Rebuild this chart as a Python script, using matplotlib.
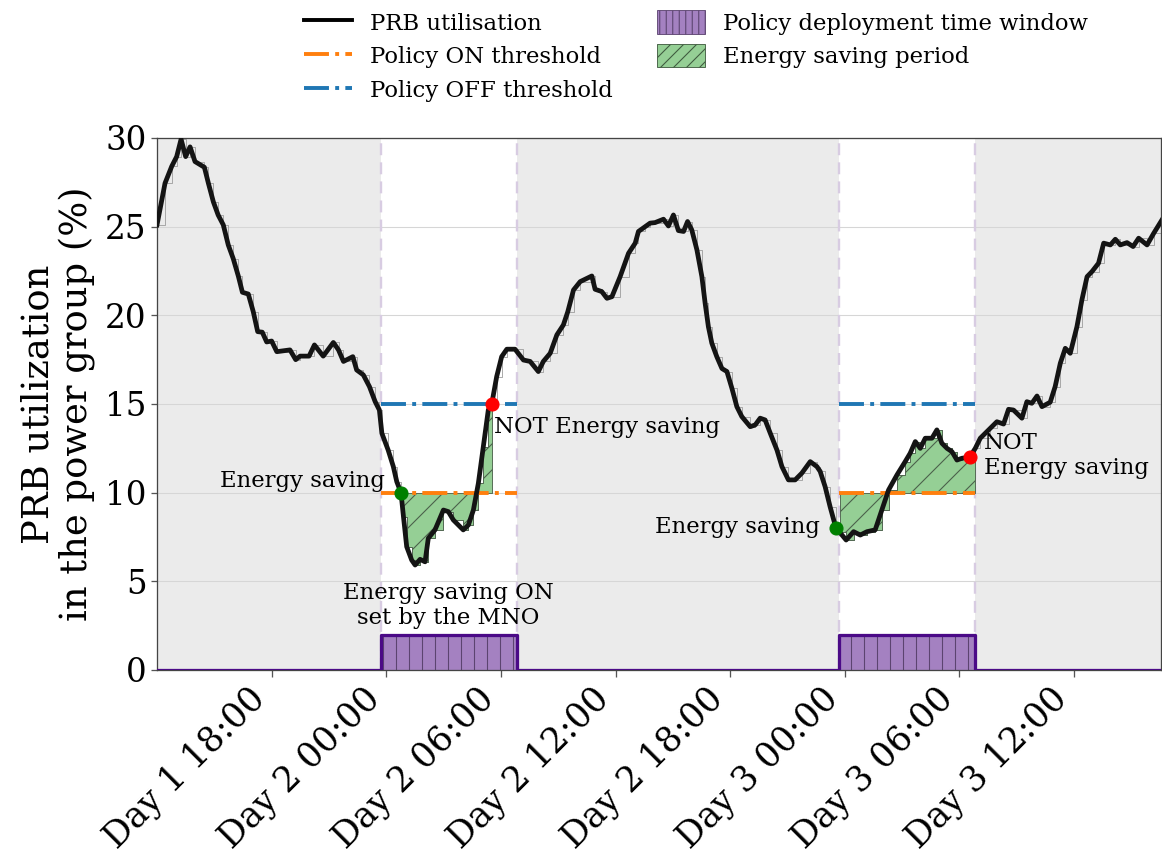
import numpy as np
import matplotlib
matplotlib.use("Agg")
import matplotlib.pyplot as plt
from matplotlib.lines import Line2D
from matplotlib.patches import Patch

# ---------------- data (time in hours since Day 1 00:00) ----------------
hours = [12.0, 12.42, 12.77, 13.03, 13.26, 13.5, 13.73, 13.99, 14.48, 14.69,
         14.95, 15.2, 15.47, 15.73, 15.99, 16.26, 16.47, 16.78, 17.04, 17.27,
         17.51, 17.74, 18.0, 18.27, 18.96, 19.26, 19.49, 19.96, 20.24, 20.7,
         21.23, 21.5, 21.76, 22.25, 22.45, 22.8, 23.12, 23.42, 23.64, 23.77,
         24.1, 24.37, 24.55, 24.77, 24.9, 25.07, 25.33, 25.51, 25.77, 26.03,
         26.2, 26.55, 26.99, 27.25, 27.51, 28.03, 28.3, 28.56, 28.82, 29.08,
         29.34, 29.52, 29.78, 30.04, 30.31, 30.74, 31.18, 31.53, 31.96, 32.22,
         32.58, 32.93, 33.27, 33.5, 33.8, 34.15, 34.76, 34.93, 35.28, 35.55,
         35.81, 36.24, 36.68, 37.03, 37.2, 37.55, 37.81, 38.07, 38.51, 38.77,
         39.03, 39.29, 39.56, 39.77, 39.99, 40.26, 40.52, 40.69, 40.86, 41.04,
         41.3, 41.57, 41.83, 42.09, 42.35, 42.61, 43.05, 43.31, 43.57, 43.83,
         44.1, 44.45, 44.71, 45.05, 45.4, 45.75, 46.19, 46.54, 46.71, 46.97,
         47.23, 47.53, 48.07, 48.46, 48.81, 49.16, 49.59, 49.94, 50.29, 50.73,
         51.16, 51.42, 51.69, 51.95, 52.21, 52.56, 52.82, 53.08, 53.35, 53.61,
         53.87, 54.13, 54.53, 54.83, 55.09, 55.61, 55.96, 56.31, 56.57, 56.83,
         57.27, 57.53, 57.79, 58.06, 58.32, 58.75, 59.01, 59.28, 59.54, 59.8,
         60.15, 60.41, 60.68, 60.94, 61.28, 61.55, 61.9, 62.16, 62.42, 62.77,
         63.09, 63.38, 63.82, 64.17, 64.6]
prb = [25.1, 27.45, 28.4, 28.95, 29.93, 28.95, 29.5, 28.67, 28.35, 27.45,
       26.4, 25.66, 25.1, 23.97, 23.2, 22.2, 21.3, 21.2, 20.2, 19.08,
       19.05, 18.5, 18.55, 17.95, 18.05, 17.5, 17.7, 17.7, 18.33, 17.7,
       18.47, 18.05, 17.4, 17.67, 16.92, 16.64, 15.98, 15.13, 14.66, 13.35,
       12.4, 11.47, 10.62, 10.0, 8.65, 6.95, 6.2, 5.92, 6.24, 6.1,
       7.43, 7.9, 9.02, 8.93, 8.46, 7.9, 8.18, 9.02, 10.53, 12.6,
       14.66, 15.0, 16.55, 17.67, 18.09, 18.09, 17.48, 17.4, 16.83, 17.4,
       17.86, 18.9, 19.46, 20.2, 21.43, 21.9, 22.22, 21.47, 21.34, 20.96,
       21.05, 22.18, 23.5, 24.07, 24.73, 25.0, 25.2, 25.23, 25.42, 25.04,
       25.66, 24.78, 24.73, 25.29, 24.82, 23.69, 22.18, 20.68, 19.36, 18.43,
       17.67, 17.0, 16.83, 15.89, 14.85, 14.29, 13.72, 13.82, 14.2, 14.1,
       13.35, 12.4, 11.47, 10.72, 10.72, 11.1, 11.75, 11.47, 11.2, 10.34,
       9.21, 8.03, 7.33, 7.8, 7.61, 7.8, 7.9, 9.02, 10.15, 11.0,
       11.75, 12.22, 12.88, 12.5, 13.07, 13.07, 13.54, 12.79, 12.5, 12.31,
       11.84, 11.94, 12.0, 12.5, 13.07, 13.63, 14.0, 13.87, 14.7, 14.66,
       14.2, 15.13, 15.04, 15.45, 14.85, 15.1, 15.98, 17.3, 18.14, 17.86,
       19.36, 20.87, 22.18, 22.47, 22.94, 24.07, 23.97, 24.29, 23.97, 24.1,
       23.88, 24.35, 23.97, 24.63, 25.38]

window_start = [23.72, 47.72]
window_end = [30.83, 54.83]
on_threshold = 10
off_threshold = 15
policy_level = 2
saving_start = [24.77, 47.74]
saving_end = [29.52, 54.83]
saving_on_h = [24.77, 47.53]
saving_on_v = [10.0, 8.03]
saving_off_h = [29.52, 54.53]
saving_off_v = [15.0, 12.0]
x_limits = [12.0, 64.55]
tick_hours = [18, 24, 30, 36, 42, 48, 54, 60]
tick_labels = ["Day 1 18:00", "Day 2 00:00", "Day 2 06:00", "Day 2 12:00",
               "Day 2 18:00", "Day 3 00:00", "Day 3 06:00", "Day 3 12:00"]
y_ticks = [0, 5, 10, 15, 20, 25, 30]

# ---------------- figure ----------------
plt.rcParams["font.family"] = ["DejaVu Serif"]
plt.rcParams["hatch.linewidth"] = 1.0
DPI = 78
fig = plt.figure(figsize=(1162 / DPI, 858 / DPI), dpi=DPI)
ax = fig.add_axes([157 / 1162, 1 - 670 / 858, (1161 - 157) / 1162, (670 - 138) / 858])
ax.set_facecolor("#ebebeb")
ax.set_axisbelow(True)
ax.yaxis.grid(True, color="#d6d6d6", lw=1.0)

h = np.array(hours)
p = np.array(prb)

for s, e in zip(window_start, window_end):
    ax.axvspan(s, e, color="white", zorder=0.2, lw=0)
    for xv in (s, e):
        ax.axvline(xv, color="#d8cce2", ls=(0, (5, 3)), lw=2.2, zorder=1)

# gray raw step line + black smoothed line
ax.plot(h, p, drawstyle="steps-post", color="#a0a0a0", lw=0.8, zorder=2)
ax.plot(h, p, color="#141414", lw=4.4, zorder=4, solid_joinstyle="round")

# energy saving fill
for s, e in zip(saving_start, saving_end):
    inside = (h > s) & (h < e)
    hh = np.concatenate([[s], h[inside], [e]])
    vv = np.interp(hh, h, p)
    ax.fill_between(hh, vv, on_threshold, step="post", facecolor="#95cf95",
                    edgecolor="#4a5f4a", hatch="/", lw=0.8, zorder=2.5)

# thresholds
for s, e in zip(window_start, window_end):
    ax.plot([s, e], [on_threshold] * 2, color="#ff7f0e", ls="-.", lw=3.6, zorder=3)
    ax.plot([s, e], [off_threshold] * 2, color="#1f77b4", ls="-.", lw=3.6, zorder=3)

# policy deployment window
edges = sorted(x_limits + window_start + window_end)
pol_v = [policy_level if any(s <= t < e for s, e in zip(window_start, window_end)) else 0
         for t in edges]
ax.fill_between(edges, 0, pol_v, step="post", facecolor="#a481c1",
                edgecolor="#5c4470", hatch="|", lw=0, zorder=2)
ax.plot(edges, pol_v, drawstyle="steps-post", color="#4b0a87", lw=3, zorder=3)

# markers
ax.plot(saving_on_h, saving_on_v, "o", color="green", ms=12, zorder=6)
ax.plot(saving_off_h, saving_off_v, "o", color="red", ms=12, zorder=6)

# annotations
fs_ann = 21
ax.text(23.94, 10.65, "Energy saving", ha="right", va="center", fontsize=fs_ann)
ax.text(29.64, 13.7, "NOT Energy saving", ha="left", va="center", fontsize=fs_ann)
ax.text(27.24, 3.65, "Energy saving ON\nset by the MNO", ha="center", va="center",
        fontsize=fs_ann, linespacing=1.2)
ax.text(46.71, 8.07, "Energy saving", ha="right", va="center", fontsize=fs_ann)
ax.text(55.3, 12.1, "NOT\nEnergy saving", ha="left", va="center", fontsize=fs_ann,
        linespacing=1.2)

ax.set_xlim(x_limits)
ax.set_ylim(0, 30)
ax.set_yticks(y_ticks)
ax.set_xticks(tick_hours)
ax.set_xticklabels(tick_labels, rotation=45, ha="right")
ax.tick_params(axis="both", length=6, width=1.2, color="#555555")
ax.tick_params(axis="y", labelsize=30)
ax.tick_params(axis="x", labelsize=32, pad=4)
for sp in ax.spines.values():
    sp.set_color("#444444")
    sp.set_linewidth(1.2)

ax.set_ylabel("PRB utilization\nin the power group (%)", fontsize=34, linespacing=1.05)
ax.yaxis.set_label_coords(-0.062, 0.5)

handles = [
    Line2D([], [], color="black", lw=3.6),
    Line2D([], [], color="#ff7f0e", ls="-.", lw=3.6),
    Line2D([], [], color="#1f77b4", ls="-.", lw=3.6),
    Patch(facecolor="#a481c1", edgecolor="#5c4470", hatch="||", lw=0.8),
    Patch(facecolor="#95cf95", edgecolor="#3f5a3f", hatch="//", lw=0.8),
]
labels = ["PRB utilisation", "Policy ON threshold", "Policy OFF threshold",
          "Policy deployment time window", "Energy saving period"]
fig.legend(handles, labels, ncol=2, loc="upper left", bbox_to_anchor=(294 / 1162, 1.0),
           frameon=False, fontsize=21, handlelength=2.1, handleheight=1.2,
           labelspacing=0.42, columnspacing=1.95, handletextpad=0.8, borderaxespad=0.05)

fig.savefig("out.png", dpi=DPI)
